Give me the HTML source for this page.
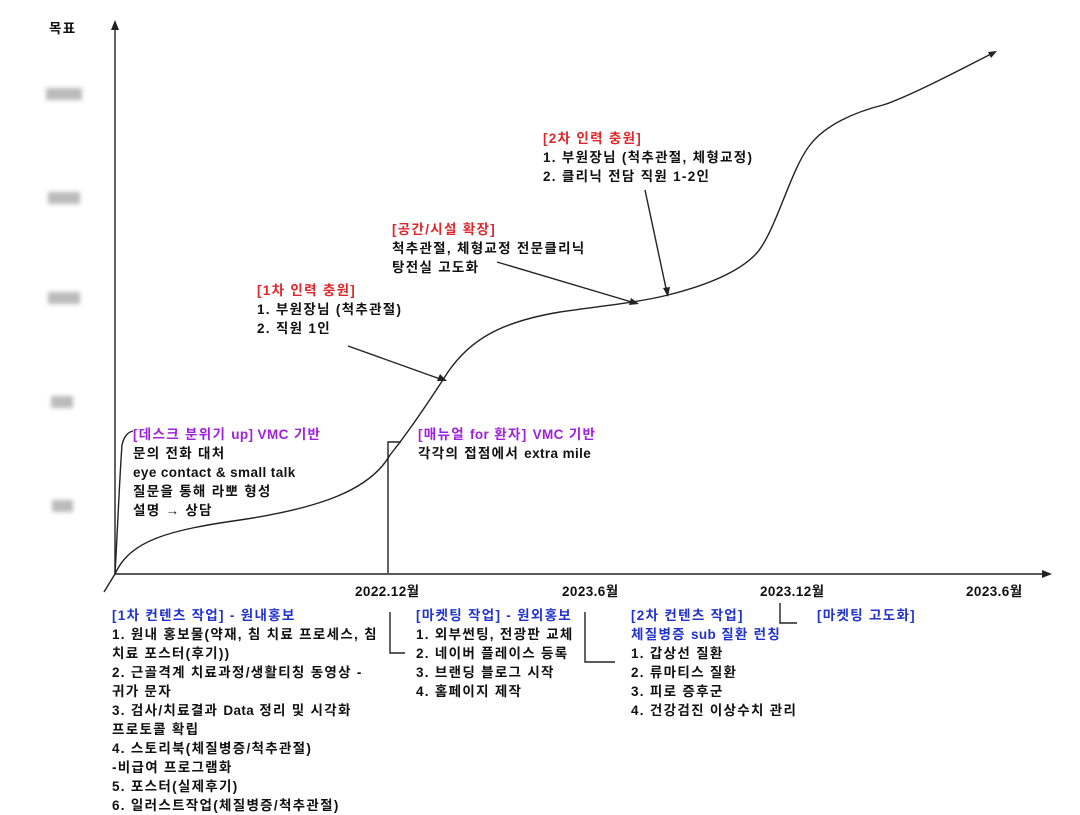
<!DOCTYPE html>
<html><head><meta charset="utf-8"><style>
html,body{margin:0;padding:0;background:#fff;width:1080px;height:808px;overflow:hidden}
.t{position:absolute;font-family:"Liberation Sans","Noto Sans CJK KR",sans-serif;font-size:13.5px;letter-spacing:1.3px;line-height:19px;color:#111;white-space:nowrap;font-weight:bold}
.r{color:#e0262a}.p{color:#a020e0}.b{color:#2233cc}
.e{letter-spacing:0.4px}
.blur{position:absolute;background:#bbb;filter:blur(2px)}
</style></head><body>
<svg width="1080" height="808" style="position:absolute;left:0;top:0">
<g stroke="#222" stroke-width="1.4" fill="none">
<line x1="115" y1="574" x2="115" y2="26"/>
<line x1="115" y1="574" x2="1046" y2="574"/>
<line x1="115" y1="574" x2="104" y2="592"/>
<path d="M115,574 C118,520 120,470 122,445 C124,436 128,432 133,431"/>
<path d="M115,574 C130,540 170,530 240,520 C320,508 370,490 390,455 C410,430 430,400 448,372 C470,340 500,322 560,312 C610,305 640,302 668,295 C700,287 735,275 755,255 C775,235 790,170 810,145 C825,125 855,112 883,105 C906,98 960,70 993,53"/>
<line x1="348" y1="346" x2="443" y2="380"/>
<line x1="497" y1="262" x2="635" y2="303"/>
<line x1="645" y1="190" x2="667" y2="293"/>
<polyline points="388,573 388,442 401,442"/>
<polyline points="390,612 390,653 405,653"/>
<polyline points="585,612 585,662 615,662"/>
<polyline points="780,603 780,623 797,623"/>
</g>
<g fill="#222">
<polygon points="115,20 111,30 119,30"/>
<polygon points="1052,574 1042,570 1042,578"/>
<polygon points="997,51 988,52 991,58"/>
<polygon points="447,381 437,381 440,374"/>
<polygon points="639,304 629,305 631,298"/>
<polygon points="668,297 663,288 670,287"/>
</g>
</svg>
<div class="t" style="left:49px;top:19px">목표</div>
<div class="blur" style="left:46px;top:88px;width:36px;height:12px"></div>
<div class="blur" style="left:48px;top:192px;width:32px;height:12px"></div>
<div class="blur" style="left:48px;top:292px;width:32px;height:12px"></div>
<div class="blur" style="left:51px;top:396px;width:22px;height:12px"></div>
<div class="blur" style="left:52px;top:500px;width:21px;height:12px"></div>

<div class="t" style="left:543px;top:129px"><span class="r">[2차 인력 충원]</span><br>1. 부원장님 (척추관절, 체형교정)<br>2. 클리닉 전담 직원 1-2인</div>
<div class="t" style="left:392px;top:220px"><span class="r">[공간/시설 확장]</span><br>척추관절, 체형교정 전문클리닉<br>탕전실 고도화</div>
<div class="t" style="left:257px;top:281px"><span class="r">[1차 인력 충원]</span><br>1. 부원장님 (척추관절)<br>2. 직원 1인</div>
<div class="t" style="left:133px;top:425px"><span class="p">[데스크 분위기 <span class="e">up] VMC</span> 기반</span><br>문의 전화 대처<br><span class="e">eye contact &amp; small talk</span><br>질문을 통해 라뽀 형성<br>설명 → 상담</div>
<div class="t" style="left:418px;top:425px"><span class="p">[매뉴얼 <span class="e">for</span> 환자] <span class="e">VMC</span> 기반</span><br>각각의 접점에서 <span class="e">extra mile</span></div>

<div class="t e" style="left:355px;top:582px">2022.12월</div>
<div class="t e" style="left:562px;top:582px">2023.6월</div>
<div class="t e" style="left:760px;top:582px">2023.12월</div>
<div class="t e" style="left:966px;top:582px">2023.6월</div>

<div class="t" style="left:112px;top:606px"><span class="b">[1차 컨텐츠 작업] - 원내홍보</span><br>1. 원내 홍보물(약재, 침 치료 프로세스, 침<br>치료 포스터(후기))<br>2. 근골격계 치료과정/생활티칭 동영상 -<br>귀가 문자<br>3. 검사/치료결과 <span class="e">Data</span> 정리 및 시각화<br>프로토콜 확립<br>4. 스토리북(체질병증/척추관절)<br>-비급여 프로그램화<br>5. 포스터(실제후기)<br>6. 일러스트작업(체질병증/척추관절)</div>
<div class="t" style="left:416px;top:606px"><span class="b">[마켓팅 작업] - 원외홍보</span><br>1. 외부썬팅, 전광판 교체<br>2. 네이버 플레이스 등록<br>3. 브랜딩 블로그 시작<br>4. 홈페이지 제작</div>
<div class="t" style="left:631px;top:606px"><span class="b">[2차 컨텐츠 작업]<br>체질병증 <span class="e">sub</span> 질환 런칭</span><br>1. 갑상선 질환<br>2. 류마티스 질환<br>3. 피로 증후군<br>4. 건강검진 이상수치 관리</div>
<div class="t b" style="left:817px;top:606px">[마켓팅 고도화]</div>
</body></html>
